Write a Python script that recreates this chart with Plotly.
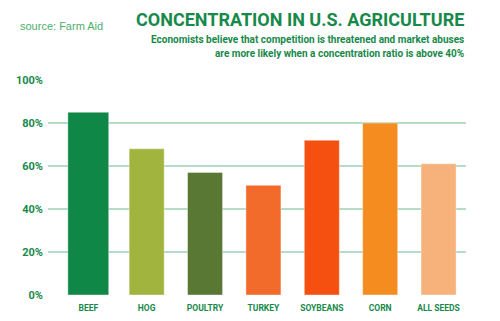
import plotly.graph_objects as go

categories = ["BEEF", "HOG", "POULTRY", "TURKEY", "SOYBEANS", "CORN", "ALL SEEDS"]
values = [85, 68, 57, 51, 72, 80, 61]
colors = ["#0f8746", "#a0b43e", "#587834", "#f36b2a", "#f5500f", "#f48c20", "#f6b27a"]
widths = [0.7, 0.6, 0.6, 0.6, 0.6, 0.6, 0.6]
threshold = 40
tick_vals = [0, 20, 40, 60, 80, 100]

GREEN = "#17894a"

fig = go.Figure()
fig.add_trace(go.Bar(
    x=categories, y=values, width=widths,
    marker=dict(color=colors, line=dict(width=0.8, color="rgba(255,255,255,0.5)")),
    hoverinfo="skip",
))

fig.add_shape(type="line", xref="paper", yref="y", x0=0, x1=1, y0=threshold, y1=threshold,
              line=dict(color="#f5a04a", width=1.6), layer="below")

L, R, T, B = 48, 34, 80, 26
H = 321 - T - B
W = 500 - L - R

def px(x):
    return (x - L) / W

def py(y):
    return (321 - B - y) / H

fig.add_annotation(text="<b>CONCENTRATION IN U.S. AGRICULTURE</b>", xref="paper", yref="paper",
                   x=1.0, y=py(20), xanchor="right", yanchor="middle", showarrow=False,
                   font=dict(family="Roboto, sans-serif", size=18, color=GREEN))
fig.add_annotation(text="<b>Economists believe that competition is threatened and market abuses</b>",
                   xref="paper", yref="paper", x=1.0, y=py(39), xanchor="right", yanchor="middle",
                   showarrow=False, font=dict(family="Roboto, sans-serif", size=10, color=GREEN))
fig.add_annotation(text="<b>are more likely when a concentration ratio is above 40%</b>",
                   xref="paper", yref="paper", x=1.0, y=py(54), xanchor="right", yanchor="middle",
                   showarrow=False, font=dict(family="Roboto, sans-serif", size=10, color=GREEN))
fig.add_annotation(text="source: Farm Aid", xref="paper", yref="paper",
                   x=px(18), y=py(26), xanchor="left", yanchor="middle", showarrow=False,
                   font=dict(family="Liberation Sans, Arial, sans-serif", size=11, color="#4caf6e"))

fig.update_layout(
    width=500, height=321,
    margin=dict(l=L, r=R, t=T, b=B),
    paper_bgcolor="white", plot_bgcolor="white",
    showlegend=False,
    xaxis=dict(range=[-0.69, 6.47], showgrid=False, showline=False, ticks="",
               tickvals=categories, ticktext=[f"<b>{c}</b>" for c in categories],
               ticklabelstandoff=6, automargin=False,
               tickfont=dict(family="Roboto, sans-serif", size=8.5, color=GREEN)),
    yaxis=dict(range=[0, 100], tickvals=tick_vals, ticktext=[f"<b>{v}%</b>" for v in tick_vals],
               showgrid=True, gridcolor="#b5dcc4", gridwidth=1.5, zeroline=False,
               showline=False, ticks="", ticklabelstandoff=4, automargin=False,
               tickfont=dict(family="Roboto, sans-serif", size=11, color=GREEN)),
)

fig.write_html("out.html")
